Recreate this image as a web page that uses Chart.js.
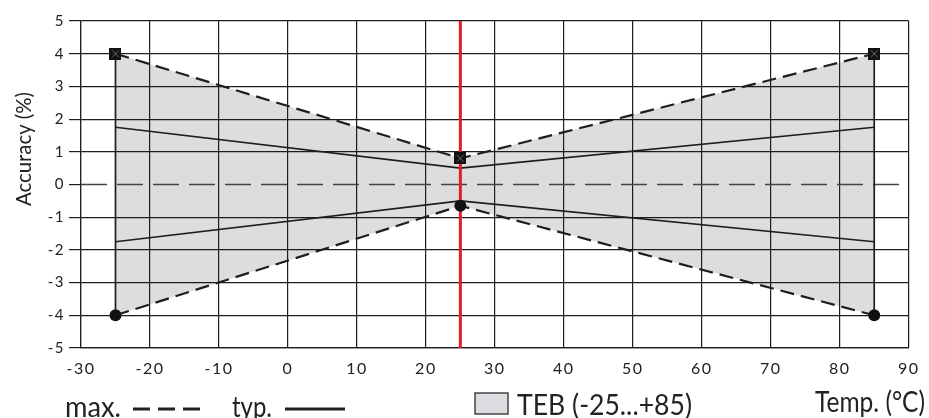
<!DOCTYPE html>
<html>
<head>
<meta charset="utf-8">
<script src="https://cdn.jsdelivr.net/npm/chart.js@4.4.1/dist/chart.umd.min.js"></script>
<style>
    html, body { margin: 0; padding: 0; background: #fff; }
    #wrap { width: 929px; height: 418px; position: relative; }
</style>
</head>
<body>
<div id="wrap"><canvas id="chart"></canvas></div>
<script>
// datos
const temps = [-25, 25, 85];
const maxUpper = [4, 0.8, 4];
const maxLower = [-4, -0.65, -4];
const typUpper = [1.75, 0.5, 1.75];
const typLower = [-1.75, -0.5, -1.75];
const tebRange = [-25, 85];
const tebLimit = [-4, 4];
const refTemp = 25;
const xRange = [-30, 90];
const yRange = [-5, 5];

const legendMax = 'max.';
const legendTyp = 'typ.';
const legendTeb = 'TEB (-25...+85)';
const xTitle = 'Temp. (°C)';
const yTitle = 'Accuracy (%)';

const ink = '#1e1e1e';
const toPts = (xs, ys) => xs.map((x, i) => ({ x: x, y: ys[i] }));

// marcador cuadrado con una x
const sq = document.createElement('canvas');
sq.width = 12; sq.height = 12;
const sctx = sq.getContext('2d');
sctx.fillStyle = '#111';
sctx.fillRect(0, 0, 12, 12);
sctx.strokeStyle = '#6a6a6a';
sctx.lineWidth = 1;
sctx.beginPath();
sctx.moveTo(2.5, 2.5); sctx.lineTo(9.5, 9.5);
sctx.moveTo(9.5, 2.5); sctx.lineTo(2.5, 9.5);
sctx.stroke();

const datasets = [
    {
        data: toPts(temps, maxUpper),
        borderColor: ink, borderWidth: 2.2, borderDash: [14, 7],
        backgroundColor: 'rgba(25,30,45,0.15)',
        fill: 1,
        pointStyle: sq, pointRadius: 6, order: 0
    },
    {
        data: toPts(temps, maxLower),
        borderColor: ink, borderWidth: 2.2, borderDash: [14, 7],
        pointStyle: 'circle', pointRadius: 6, pointBackgroundColor: '#111', pointBorderWidth: 0,
        fill: false, order: 0
    },
    {
        data: toPts(temps, typUpper),
        borderColor: ink, borderWidth: 1.7, pointRadius: 0, fill: false, order: 2
    },
    {
        data: toPts(temps, typLower),
        borderColor: ink, borderWidth: 1.7, pointRadius: 0, fill: false, order: 2
    },
    {
        data: toPts([tebRange[0], tebRange[0]], tebLimit),
        borderColor: ink, borderWidth: 1.7, pointRadius: 0, fill: false, order: 2
    },
    {
        data: toPts([tebRange[1], tebRange[1]], tebLimit),
        borderColor: ink, borderWidth: 1.7, pointRadius: 0, fill: false, order: 2
    },
    {
        data: toPts(xRange, [0, 0]),
        borderColor: '#444', borderWidth: 1.3, borderDash: [26, 10], pointRadius: 0, fill: false, order: 2
    },
    {
        data: toPts([refTemp, refTemp], yRange),
        borderColor: 'rgb(228,30,38)', borderWidth: 3, pointRadius: 0, fill: false, order: 1
    }
];

// textos de abajo y titulo del eje y
const extraText = {
    id: 'extraText',
    afterDraw(chart) {
        const ctx = chart.ctx;
        ctx.save();
        ctx.letterSpacing = '0px';
        ctx.fillStyle = '#222';
        ctx.textBaseline = 'alphabetic';
        ctx.textAlign = 'left';

        // titulo eje y
        ctx.save();
        ctx.translate(31, 149);
        ctx.rotate(-Math.PI / 2);
        ctx.textAlign = 'center';
        ctx.font = '22px Lato';
        ctx.fillText(yTitle, 0, 0, 114);
        ctx.restore();

        ctx.font = '28px Lato';
        ctx.fillText(legendMax, 65, 417, 56);
        ctx.fillText(legendTyp, 232, 417, 40);
        ctx.fillText(legendTeb, 517, 415, 175);
        ctx.fillText(xTitle, 815, 412, 110);

        ctx.strokeStyle = '#222';
        ctx.lineWidth = 3;
        ctx.beginPath();
        ctx.setLineDash([17, 8]);
        ctx.moveTo(133, 409); ctx.lineTo(200, 409);
        ctx.stroke();
        ctx.setLineDash([]);
        ctx.beginPath();
        ctx.moveTo(285, 409); ctx.lineTo(345, 409);
        ctx.stroke();

        // cuadro de TEB
        ctx.fillStyle = '#dcdde0';
        ctx.fillRect(475, 393, 33, 21);
        ctx.lineWidth = 1.5;
        ctx.strokeStyle = '#444';
        ctx.strokeRect(475, 393, 33, 21);
        ctx.restore();
    }
};

const spacing = {
    id: 'spacing',
    beforeDraw(chart) {
        chart.ctx.letterSpacing = '1.5px';
    }
};

const config = {
    type: 'scatter',
    data: { datasets },
    options: {
        responsive: false,
        animation: false,
        showLine: true,
        layout: { padding: { top: 21, right: 20, bottom: 0, left: 0 } },
        plugins: {
            legend: { display: false },
            tooltip: { enabled: false },
            filler: { drawTime: 'beforeDatasetsDraw' }
        },
        scales: {
            x: {
                type: 'linear',
                min: xRange[0], max: xRange[1],
                afterFit: s => { s.height = 70; },
                ticks: { stepSize: 10, color: '#222', font: { family: 'Lato', size: 16 }, padding: 11, maxRotation: 0 },
                grid: { color: ink, lineWidth: 1.2, drawTicks: false },
                border: { color: ink, width: 1.2 }
            },
            y: {
                min: yRange[0], max: yRange[1],
                afterFit: s => { s.width = 81; },
                ticks: { stepSize: 1, color: '#222', font: { family: 'Lato', size: 15 }, padding: 4 },
                grid: {
                    // la linea del 0 es discontinua
                    color: c => (c.tick && c.tick.value === 0) ? 'rgba(0,0,0,0)' : ink,
                    tickColor: ink,
                    lineWidth: 1.2, tickLength: 12
                },
                border: { color: ink, width: 1.2 }
            }
        }
    },
    plugins: [spacing, extraText]
};

const chart = document.getElementById('chart');
chart.width = 929;
chart.height = 418;
const myChart = new Chart(chart, config);
</script>
</body>
</html>
